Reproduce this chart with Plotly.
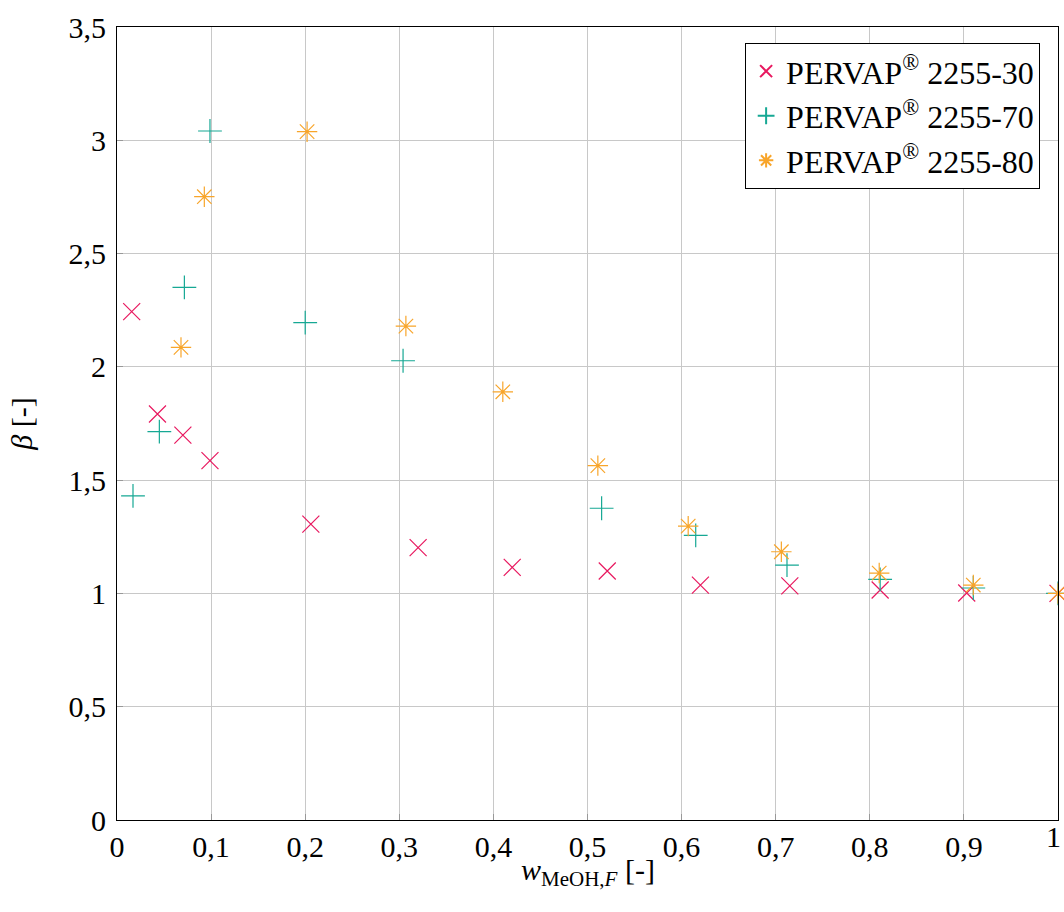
import plotly.graph_objects as go

# Data
x_30 = [0.0156, 0.043, 0.070, 0.0988, 0.206, 0.320, 0.420, 0.521, 0.620, 0.715, 0.811, 0.903, 1.0]
y_30 = [2.244, 1.792, 1.699, 1.586, 1.306, 1.202, 1.115, 1.099, 1.037, 1.033, 1.015, 1.002, 1.0]

x_70 = [0.017, 0.045, 0.0716, 0.0988, 0.200, 0.304, 0.515, 0.615, 0.712, 0.811, 0.910, 1.0]
y_70 = [1.431, 1.714, 2.351, 3.041, 2.195, 2.027, 1.376, 1.256, 1.125, 1.062, 1.024, 1.0]

x_80 = [0.068, 0.0928, 0.202, 0.307, 0.410, 0.511, 0.607, 0.706, 0.810, 0.910, 1.0]
y_80 = [2.086, 2.751, 3.038, 2.180, 1.890, 1.564, 1.297, 1.184, 1.090, 1.037, 1.0]

names = ["PERVAP<sup>®</sup> 2255-30", "PERVAP<sup>®</sup> 2255-70", "PERVAP<sup>®</sup> 2255-80"]
colors = ["#E8185F", "#16A894", "#F8A52A"]
symbols = ["x-thin-open", "cross-thin-open", "asterisk-open"]

xticks = [0, 0.1, 0.2, 0.3, 0.4, 0.5, 0.6, 0.7, 0.8, 0.9, 1]
yticks = [0, 0.5, 1, 1.5, 2, 2.5, 3, 3.5]
xtitle = "<i>w</i><sub>MeOH,<i>F</i></sub> [-]"
ytitle = "<i>β</i> [-]"

FONT = "Liberation Serif"
FS = 30

fig = go.Figure()
for xs, ys, nm, c, s in zip([x_30, x_70, x_80], [y_30, y_70, y_80], names, colors, symbols):
    fig.add_trace(go.Scatter(
        x=xs, y=ys, mode="markers", name=nm, cliponaxis=False,
        marker=dict(symbol=s, size=17, color=c, line=dict(color=c, width=1.2)),
    ))

axis_common = dict(
    showline=True, linecolor="black", linewidth=1.2, mirror=True,
    showgrid=True, gridcolor="#c8c8c8", gridwidth=1,
    zeroline=False, ticks="inside", ticklen=6, tickcolor="#999999", tickwidth=1,
    tickfont=dict(family=FONT, size=FS, color="black"),
    automargin=False,
)

xlabels = [f"{v:g}".replace(".", ",") for v in xticks]

fig.update_layout(
    width=1064, height=912,
    margin=dict(l=117, r=6, t=27, b=92, autoexpand=False),
    paper_bgcolor="white", plot_bgcolor="white",
    separators=",.",
    font=dict(family=FONT, size=FS, color="black"),
    xaxis=dict(range=[0, 1], tickvals=xticks, ticktext=xlabels, **axis_common),
    yaxis=dict(range=[0, 3.5], tickvals=yticks, ticklabelstandoff=4,
               title=dict(text=ytitle, font=dict(family=FONT, size=FS), standoff=26),
               **axis_common),
    legend=dict(x=0.981, y=0.98, xanchor="right", yanchor="top",
                bordercolor="black", borderwidth=1, bgcolor="white",
                font=dict(family=FONT, size=32, color="black"),
                itemsizing="constant", tracegroupgap=0, itemwidth=30),
    showlegend=True,
)

# last x tick label (plotly drops it because it touches the page edge)
fig.add_annotation(x=xticks[-1], xref="x", y=0, yref="paper", text=xlabels[-1],
                   showarrow=False, xanchor="right", yanchor="middle", xshift=5, yshift=-16,
                   font=dict(family=FONT, size=FS, color="black"))
# x-axis title
fig.add_annotation(x=0.5, xref="paper", y=0, yref="paper", text=xtitle,
                   showarrow=False, xanchor="center", yanchor="middle", yshift=-52,
                   font=dict(family=FONT, size=FS, color="black"))

fig.write_html("out.html")
